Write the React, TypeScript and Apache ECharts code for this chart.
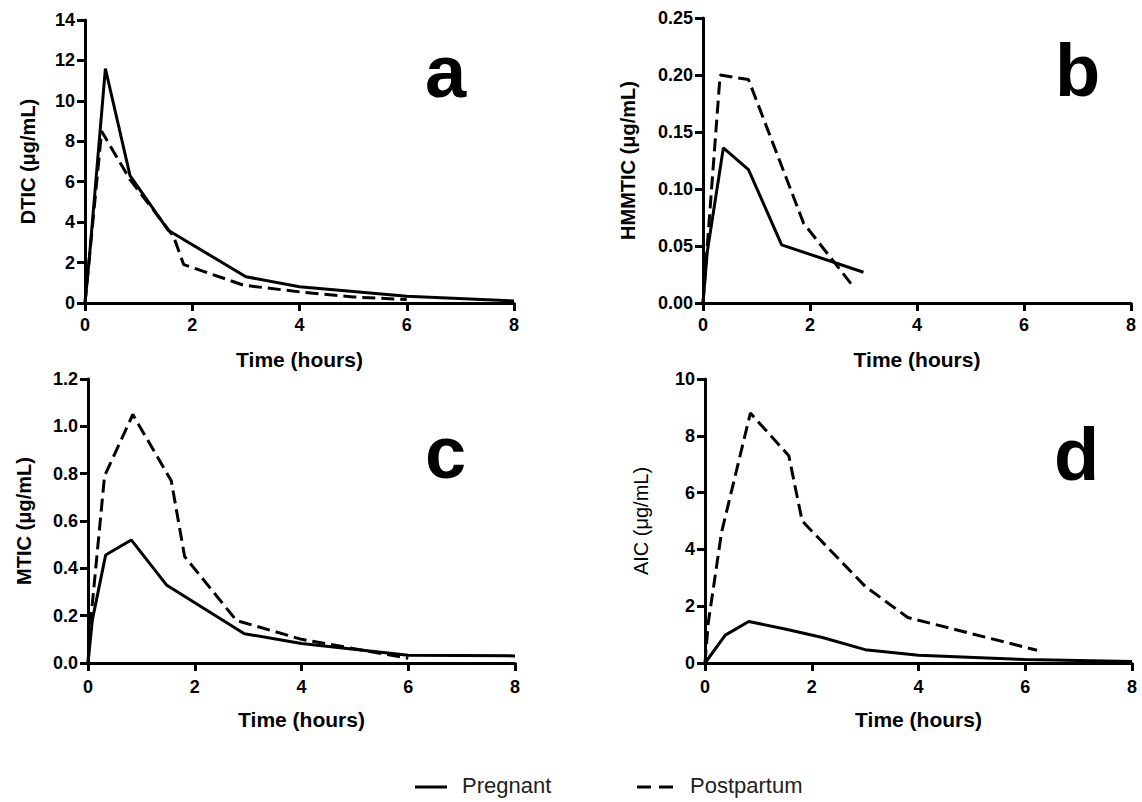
import React, { useEffect, useRef } from "react";
import * as echarts from "echarts";

// Panel a: DTIC
const aPregT = [0, 0.08, 0.38, 0.84, 1.55, 3, 4, 6, 8];
const aPregY = [0, 2.2, 11.6, 6.3, 3.6, 1.3, 0.8, 0.33, 0.1];
const aPostT = [0, 0.31, 0.84, 1.65, 1.84, 2.96, 4, 5, 6];
const aPostY = [0, 8.5, 6.1, 3.3, 1.9, 0.88, 0.55, 0.3, 0.17];
// Panel b: HMMTIC
const bPregT = [0, 0.08, 0.38, 0.85, 1.47, 3];
const bPregY = [0, 0.045, 0.136, 0.117, 0.051, 0.027];
const bPostT = [0, 0.08, 0.32, 0.85, 1.88, 2.8];
const bPostY = [0, 0.05, 0.2, 0.196, 0.07, 0.015];
// Panel c: MTIC
const cPregT = [0, 0.08, 0.33, 0.81, 1.47, 2.93, 4, 6, 8];
const cPregY = [0, 0.18, 0.456, 0.52, 0.33, 0.124, 0.082, 0.033, 0.03];
const cPostT = [0, 0.06, 0.31, 0.84, 1.56, 1.81, 2.78, 4, 6];
const cPostY = [0, 0.2, 0.79, 1.05, 0.77, 0.45, 0.18, 0.1, 0.02];
// Panel d: AIC
const dPregT = [0, 0.38, 0.82, 1.5, 2.2, 3, 4, 6, 8];
const dPregY = [0, 0.98, 1.46, 1.2, 0.9, 0.47, 0.27, 0.12, 0.05];
const dPostT = [0, 0.06, 0.31, 0.85, 1.57, 1.82, 3, 3.8, 6.22];
const dPostY = [0, 1.4, 4.6, 8.8, 7.3, 5.0, 2.7, 1.6, 0.45];

const panelLetters = ["a", "b", "c", "d"];
const yTitles = ["DTIC (μg/mL)", "HMMTIC (μg/mL)", "MTIC (μg/mL)", "AIC (μg/mL)"];
const yMax = [14, 0.25, 1.2, 10];
const yStep = [2, 0.05, 0.2, 2];
const yDecimals = [0, 2, 1, 0];
const xTitle = "Time (hours)";
const seriesNames = ["Pregnant", "Postpartum"];

const FONT = "'Liberation Sans', Arial, sans-serif";

const zip = (t: number[], y: number[]) => t.map((v, i) => [v, y[i]]);

export default function App() {
  const ref = useRef<HTMLDivElement>(null);
  useEffect(() => {
    if (!ref.current) return;
    const chart = echarts.init(ref.current, null, { renderer: "svg" });
    const grids = [
      { left: 85, top: 20, width: 429, height: 283 },
      { left: 703, top: 18, width: 428, height: 285 },
      { left: 88, top: 379, width: 427, height: 284 },
      { left: 705, top: 379, width: 427, height: 284 },
    ];
    const yGaps = [47, 65, 54, 54];
    const axisLine = { show: true, lineStyle: { color: "#000", width: 3 } };
    const axisTick = { show: true, inside: false, length: 8, lineStyle: { color: "#000", width: 3 } };
    const xAxes = grids.map((_, i) => ({
      type: "value",
      gridIndex: i,
      min: 0,
      max: 8,
      interval: 2,
      axisLine,
      axisTick,
      splitLine: { show: false },
      axisLabel: { color: "#000", fontFamily: FONT, fontWeight: "bold", fontSize: 18, margin: i < 2 ? 13 : 15 },
      name: xTitle,
      nameLocation: "middle",
      nameGap: 46,
      nameTextStyle: { color: "#000", fontFamily: FONT, fontWeight: "bold", fontSize: 21 },
    }));
    const yAxes = grids.map((_, i) => ({
      type: "value",
      gridIndex: i,
      min: 0,
      max: yMax[i],
      interval: yStep[i],
      axisLine,
      axisTick,
      splitLine: { show: false },
      axisLabel: {
        color: "#000",
        fontFamily: FONT,
        fontWeight: "bold",
        fontSize: 18,
        margin: 10,
        formatter: (v: number) => v.toFixed(yDecimals[i]),
      },
      name: yTitles[i],
      nameLocation: "middle",
      nameGap: yGaps[i],
      nameTextStyle: {
        color: "#000",
        fontFamily: FONT,
        fontWeight: i === 3 ? "normal" : "bold",
        fontSize: 20,
      },
    }));
    const data = [
      [zip(aPregT, aPregY), zip(aPostT, aPostY)],
      [zip(bPregT, bPregY), zip(bPostT, bPostY)],
      [zip(cPregT, cPregY), zip(cPostT, cPostY)],
      [zip(dPregT, dPregY), zip(dPostT, dPostY)],
    ];
    const series: any[] = [];
    data.forEach((pair, i) => {
      pair.forEach((d, j) => {
        series.push({
          type: "line",
          name: seriesNames[j],
          xAxisIndex: i,
          yAxisIndex: i,
          data: d,
          symbol: "none",
          lineStyle: { color: "#000", width: 3, type: j === 0 ? "solid" : [13, 6] },
          z: j === 0 ? 3 : 2,
        });
      });
    });
    const letterPos = [
      { x: 425, y: 71 },
      { x: 1055, y: 70 },
      { x: 425, y: 452 },
      { x: 1054, y: 454 },
    ];
    const graphic: any[] = letterPos.map((p, i) => ({
      type: "text",
      x: p.x,
      y: p.y,
      style: {
        text: panelLetters[i],
        font: `bold 74px ${FONT}`,
        fill: "#000",
        textAlign: "left",
        textVerticalAlign: "middle",
      },
    }));
    graphic.push(
      { type: "line", shape: { x1: 415, y1: 787, x2: 447, y2: 787 }, style: { stroke: "#000", lineWidth: 3 } },
      { type: "text", x: 462, y: 785, style: { text: seriesNames[0], font: `22px ${FONT}`, fill: "#222", textVerticalAlign: "middle" } },
      { type: "line", shape: { x1: 637, y1: 787, x2: 673, y2: 787 }, style: { stroke: "#000", lineWidth: 3, lineDash: [14, 8] } },
      { type: "text", x: 690, y: 785, style: { text: seriesNames[1], font: `22px ${FONT}`, fill: "#222", textVerticalAlign: "middle" } }
    );
    chart.setOption({
      animation: false,
      backgroundColor: "#fff",
      grid: grids,
      xAxis: xAxes,
      yAxis: yAxes,
      series,
      graphic,
    });
    return () => chart.dispose();
  }, []);
  return (
    <div
      ref={ref}
      style={{ position: "absolute", left: 0, top: 0, width: 1142, height: 802 }}
    />
  );
}
